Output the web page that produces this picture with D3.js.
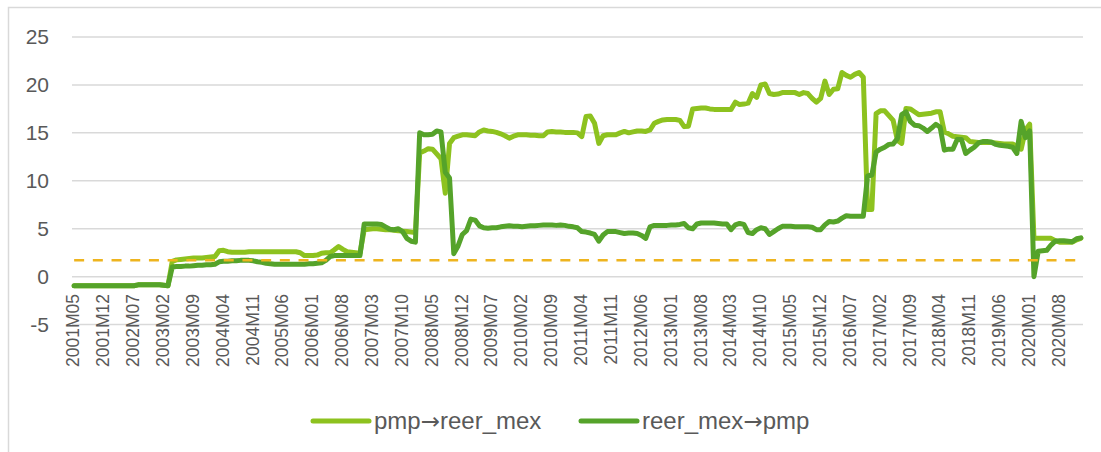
<!DOCTYPE html>
<html>
<head>
<meta charset="utf-8">
<script src="https://cdn.jsdelivr.net/npm/d3@7/dist/d3.min.js"></script>
<style>
body { margin: 0; background: #fff; }
text { font-family: "Liberation Sans", Arial, sans-serif; fill: #595959; }
</style>
</head>
<body>
<svg id="chart" width="1101" height="452"></svg>
<script>
// monthly categories 2001M05 .. 2021M01
var firstYear = 2001, firstMonth = 5, nMonths = 237;
var months = [];
for (var k = 0; k < nMonths; k++) {
    var m = firstMonth - 1 + k;
    var yy = firstYear + Math.floor(m / 12);
    var mm = (m % 12) + 1;
    months.push(yy + "M" + (mm < 10 ? "0" : "") + mm);
}

var tickLabels = ["2001M05", "2001M12", "2002M07", "2003M02", "2003M09", "2004M04", "2004M11",
    "2005M06", "2006M01", "2006M08", "2007M03", "2007M10", "2008M05", "2008M12", "2009M07",
    "2010M02", "2010M09", "2011M04", "2011M11", "2012M06", "2013M01", "2013M08", "2014M03",
    "2014M10", "2015M05", "2015M12", "2016M07", "2017M02", "2017M09", "2018M04", "2018M11",
    "2019M06", "2020M01", "2020M08"];

var yTicks = [-5, 0, 5, 10, 15, 20, 25];

var seriesNames = ["pmp\u2192reer_mex", "reer_mex\u2192pmp"];

var pmpToReer = [
    -0.95, -0.95, -0.95, -0.95, -0.95, -0.95, -0.95, -0.95, -0.95, -0.95,
    -0.95, -0.95, -0.95, -0.95, -0.95, -0.85, -0.85, -0.85, -0.85, -0.85,
    -0.85, -0.9, -0.95, 1.6, 1.75, 1.8, 1.85, 1.9, 1.95, 1.95,
    1.95, 2.0, 2.05, 2.1, 2.7, 2.75, 2.6, 2.55, 2.55, 2.55,
    2.55, 2.6, 2.6, 2.6, 2.6, 2.6, 2.6, 2.6, 2.6, 2.6,
    2.6, 2.6, 2.6, 2.5, 2.2, 2.2, 2.2, 2.25, 2.45, 2.5,
    2.5, 2.8, 3.15, 2.85, 2.6, 2.55, 2.5, 2.45, 4.9, 4.95,
    5.0, 5.0, 4.95, 4.9, 4.9, 4.85, 4.8, 4.75, 4.7, 4.65,
    4.6, 12.9, 13.1, 13.35, 13.3, 12.8, 12.3, 8.7, 13.9, 14.5,
    14.65, 14.8, 14.8, 14.75, 14.7, 15.1, 15.3, 15.2, 15.15, 15.05,
    14.9, 14.7, 14.45, 14.65, 14.8, 14.8, 14.8, 14.75, 14.75, 14.7,
    14.7, 15.1, 15.15, 15.1, 15.1, 15.05, 15.05, 15.05, 15.0, 14.6,
    16.7, 16.75, 16.0, 13.9, 14.7, 14.8, 14.8, 14.8, 15.0, 15.15,
    15.0, 15.1, 15.2, 15.2, 15.15, 15.3, 16.0, 16.2, 16.35, 16.4,
    16.4, 16.4, 16.3, 15.65, 15.7, 17.5, 17.55, 17.6, 17.6, 17.5,
    17.45, 17.45, 17.45, 17.45, 17.45, 18.2, 17.95, 18.0, 18.1, 19.1,
    18.7, 20.0, 20.1, 19.1, 19.0, 19.05, 19.2, 19.2, 19.2, 19.2,
    19.0, 19.2, 19.1, 18.6, 18.2, 18.6, 20.4, 19.0, 19.55, 19.6,
    21.3, 21.0, 20.8, 21.1, 21.3, 20.8, 7.0, 7.0, 17.0, 17.3,
    17.3, 16.8, 16.3, 14.2, 13.9, 17.55, 17.5, 17.2, 16.9, 16.95,
    17.0, 17.05, 17.2, 17.2, 15.1, 14.9, 14.65, 14.6, 14.55, 14.5,
    14.1, 14.05, 14.0, 14.0, 14.0, 14.0, 13.95, 13.9, 13.85, 13.85,
    13.85, 13.6, 13.3, 15.3, 15.9, 4.0, 4.0, 4.0, 4.0, 4.0,
    3.75, 3.6, 3.6, 3.6, 3.6, 3.85, 4.0
];

var reerToPmp = [
    -0.95, -0.95, -0.95, -0.95, -0.95, -0.95, -0.95, -0.95, -0.95, -0.95,
    -0.95, -0.95, -0.95, -0.95, -0.95, -0.85, -0.85, -0.85, -0.85, -0.85,
    -0.85, -0.9, -0.95, 1.0, 1.05, 1.05, 1.1, 1.1, 1.15, 1.2,
    1.2, 1.25, 1.25, 1.3, 1.55, 1.6, 1.6, 1.65, 1.65, 1.7,
    1.7, 1.7, 1.65, 1.55, 1.5, 1.4, 1.35, 1.3, 1.3, 1.3,
    1.3, 1.3, 1.3, 1.3, 1.3, 1.35, 1.35, 1.4, 1.45, 1.7,
    2.1, 2.2, 2.2, 2.2, 2.2, 2.2, 2.2, 2.2, 5.5, 5.5,
    5.5, 5.5, 5.45, 5.2, 4.95, 4.9, 5.0, 4.7, 4.0, 3.7,
    3.6, 15.0, 14.8, 14.8, 14.85, 15.2, 15.1, 10.9, 10.3, 2.4,
    3.2, 4.4, 4.8, 6.0, 5.9, 5.3, 5.1, 5.05, 5.1, 5.1,
    5.2, 5.25, 5.3, 5.25, 5.25, 5.2, 5.25, 5.3, 5.3, 5.35,
    5.4, 5.4, 5.4, 5.35, 5.4, 5.35, 5.25, 5.2, 5.1, 4.7,
    4.65, 4.55, 4.4, 3.7, 4.35, 4.7, 4.7, 4.7, 4.6, 4.5,
    4.55, 4.55, 4.5, 4.3, 4.0, 5.2, 5.35, 5.35, 5.35, 5.35,
    5.4, 5.4, 5.45, 5.55, 5.1, 5.0, 5.5, 5.6, 5.6, 5.6,
    5.6, 5.55, 5.5, 5.5, 4.9, 5.4, 5.55, 5.45, 4.6, 4.5,
    4.9, 5.1, 5.0, 4.4, 4.7, 5.0, 5.25, 5.25, 5.25, 5.2,
    5.2, 5.2, 5.2, 5.15, 4.9, 4.9, 5.4, 5.75, 5.7, 5.8,
    6.1, 6.35, 6.3, 6.3, 6.3, 6.3, 10.5, 10.6, 13.0, 13.3,
    13.5, 13.8, 13.85, 14.4, 16.9, 17.2, 16.2, 15.8, 15.75, 15.5,
    15.15, 15.5, 15.9, 15.6, 13.2, 13.3, 13.3, 14.3, 14.3, 12.85,
    13.2, 13.5, 13.95, 14.1, 14.1, 14.05, 13.8, 13.7, 13.65, 13.6,
    13.5, 12.85, 16.2, 14.5, 15.2, 0.0, 2.65, 2.7, 2.75, 3.3,
    3.7, 3.75, 3.75, 3.7, 3.65, 3.95, 4.05
];

var criticalValue = 1.7;

var colors = ["#8dc21f", "#55a32a"];
var dashColor = "#eeb41e";

var svg = d3.select("#chart");

// outer chart border
svg.append("rect")
    .attr("x", 8.5).attr("y", 7.5)
    .attr("width", 1110).attr("height", 460)
    .attr("fill", "none")
    .attr("stroke", "#d9d9d9")
    .attr("stroke-width", 1.5);

var plotLeft = 72, plotRight = 1083;

var x = d3.scaleBand()
    .domain(months)
    .range([plotLeft, plotRight])
    .padding(0);

var y = d3.scaleLinear()
    .domain([-5, 25])
    .range([324.6, 37]);

function xc(m) {
    return x(m) + x.bandwidth() / 2;
}

// gridlines
svg.append("g")
    .selectAll("line")
    .data(yTicks)
    .enter()
    .append("line")
    .attr("x1", plotLeft).attr("x2", plotRight)
    .attr("y1", d => y(d)).attr("y2", d => y(d))
    .attr("stroke", "#d9d9d9")
    .attr("stroke-width", 1.5);

// y labels
svg.append("g")
    .selectAll("text")
    .data(yTicks)
    .enter()
    .append("text")
    .attr("x", 49)
    .attr("y", d => y(d))
    .attr("dy", "0.35em")
    .attr("text-anchor", "end")
    .style("font-size", "21px")
    .text(d => d);

// x labels (every 7th month)
svg.append("g")
    .selectAll("text")
    .data(tickLabels)
    .enter()
    .append("text")
    .attr("transform", d => "translate(" + (xc(d) - 1) + ",294) rotate(-90)")
    .attr("dy", "0.36em")
    .attr("text-anchor", "end")
    .style("font-size", "17.5px")
    .text(d => d);

var line = d3.line()
    .x((d, i) => xc(months[i]))
    .y(d => y(d));

[pmpToReer, reerToPmp].forEach(function(serie, s) {
    svg.append("path")
        .datum(serie)
        .attr("d", line)
        .attr("fill", "none")
        .attr("stroke", colors[s])
        .attr("stroke-width", 5)
        .attr("stroke-linejoin", "round")
        .attr("stroke-linecap", "round");
});

// critical value
svg.append("line")
    .attr("x1", xc(months[0]))
    .attr("x2", xc(months[months.length - 1]))
    .attr("y1", y(criticalValue))
    .attr("y2", y(criticalValue))
    .attr("stroke", dashColor)
    .attr("stroke-width", 2.5)
    .attr("stroke-dasharray", "10,8.7");

// legend
var legendX = [313, 581];
var legend = svg.append("g")
    .selectAll("g")
    .data(seriesNames)
    .enter()
    .append("g")
    .attr("transform", (d, i) => "translate(" + legendX[i] + ",421)");

legend.append("line")
    .attr("x1", 0).attr("x2", 56)
    .attr("stroke", (d, i) => colors[i])
    .attr("stroke-width", 5)
    .attr("stroke-linecap", "round");

legend.append("text")
    .attr("x", 61)
    .attr("dy", "0.35em")
    .style("font-size", "24px")
    .each(function(d) {
        var parts = d.split("\u2192");
        var t = d3.select(this);
        t.append("tspan").text(parts[0]);
        t.append("tspan").style("font-family", "DejaVu Sans").style("font-size", "23px").text("\u2192");
        t.append("tspan").text(parts[1]);
    });
</script>
</body>
</html>
